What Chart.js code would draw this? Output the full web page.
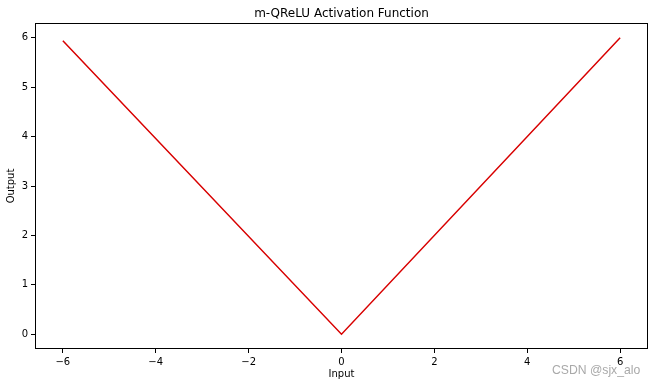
<!DOCTYPE html>
<html>
<head>
<meta charset="utf-8">
<script src="https://cdn.jsdelivr.net/npm/chart.js@4"></script>
<style>
html,body{margin:0;padding:0;background:#fff;}
#wrap{width:655px;height:387px;position:relative;}
</style>
</head>
<body>
<div id="wrap"><canvas id="c" width="655" height="387"></canvas></div>
<script>
// Data
const inputX = [-6, 0, 6];
const outputY = [5.94, 0, 6];
const xTicks = [-6, -4, -2, 0, 2, 4, 6];
const yTicks = [0, 1, 2, 3, 4, 5, 6];
const titleText = 'm-QReLU Activation Function';
const xLabel = 'Input';
const yLabel = 'Output';
const watermark = 'CSDN @sjx_alo';

const FONT = "'DejaVu Sans', sans-serif";
const fmt = v => (v < 0 ? '\u2212' + Math.abs(v) : String(v));

const overlay = {
  id: 'overlay',
  afterDraw(chart) {
    const ctx = chart.ctx;
    ctx.save();
    const ca = chart.chartArea;
    ctx.strokeStyle = '#000';
    ctx.lineWidth = 1;
    ctx.strokeRect(Math.round(ca.left) + 0.5, Math.round(ca.top) + 0.5,
                   Math.round(ca.right - ca.left) - 1, Math.round(ca.bottom - ca.top) - 1);
    ctx.fillStyle = '#000';
    ctx.font = '12px ' + FONT;
    ctx.textAlign = 'center';
    ctx.textBaseline = 'middle';
    ctx.fillText(titleText, (ca.left + ca.right) / 2, 14);
    ctx.fillStyle = '#a9a9a9';
    ctx.font = "12.2px 'Liberation Sans', Arial, sans-serif";
    ctx.textAlign = 'left';
    ctx.fillText(watermark, 552, 371);
    ctx.restore();
  }
};

new Chart(document.getElementById('c'), {
  type: 'line',
  data: {
    datasets: [{
      data: inputX.map((x, i) => ({x: x, y: outputY[i]})),
      borderColor: '#d80000',
      borderWidth: 1.5,
      pointRadius: 0,
      tension: 0,
      fill: false
    }]
  },
  options: {
    responsive: false,
    animation: false,
    layout: {padding: {top: 23, right: 7, left: 0, bottom: 0}},
    plugins: {legend: {display: false}, title: {display: false}, tooltip: {enabled: false}},
    scales: {
      x: {
        type: 'linear',
        min: -6.6, max: 6.6,
        afterBuildTicks: s => { s.ticks = xTicks.map(v => ({value: v})); },
        afterFit: s => { s.height = 38; },
        grid: {display: true, drawOnChartArea: false, drawTicks: true, tickLength: 4, color: '#000', tickColor: '#000'},
        border: {display: false},
        ticks: {color: '#000', font: {family: FONT, size: 10}, padding: 3, maxRotation: 0, callback: v => fmt(v)},
        title: {display: true, text: xLabel, color: '#000', font: {family: FONT, size: 10}, padding: {top: 0, bottom: 7}}
      },
      y: {
        type: 'linear',
        min: -0.3, max: 6.3,
        afterBuildTicks: s => { s.ticks = yTicks.map(v => ({value: v})); },
        afterFit: s => { s.width = 35; },
        grid: {display: true, drawOnChartArea: false, drawTicks: true, tickLength: 4, color: '#000', tickColor: '#000'},
        border: {display: false},
        ticks: {color: '#000', font: {family: FONT, size: 10}, padding: 3, callback: v => fmt(v)},
        title: {display: true, text: yLabel, color: '#000', font: {family: FONT, size: 10}, padding: {top: 5, bottom: 0}}
      }
    }
  },
  plugins: [overlay]
});
</script>
</body>
</html>
